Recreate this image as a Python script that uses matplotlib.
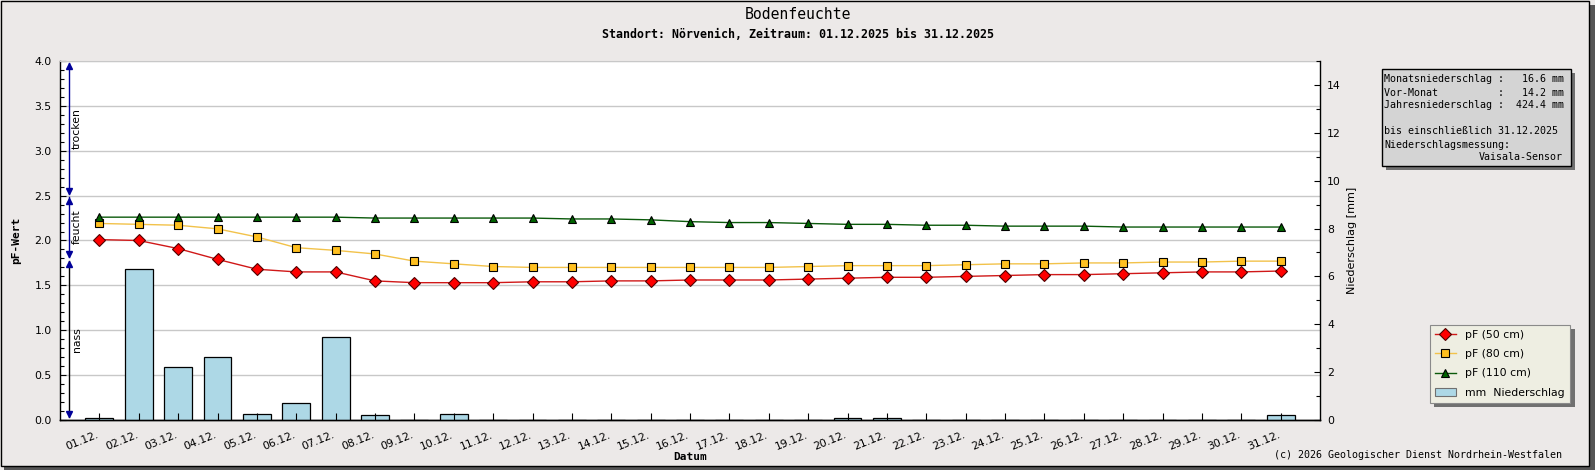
import matplotlib
matplotlib.use('Agg')
import matplotlib.pyplot as plt
import matplotlib.transforms as mtransforms
from matplotlib.patches import Rectangle, Patch
from matplotlib.lines import Line2D
from matplotlib.ticker import MultipleLocator, FormatStrFormatter
import numpy as np

# ---------------- data ----------------
days = list(range(1, 32))
date_labels = [f"{d:02d}.12." for d in days]

pf_50 = [2.01, 2.00, 1.91, 1.79, 1.68, 1.65, 1.65, 1.55, 1.53, 1.53, 1.53,
         1.54, 1.54, 1.55, 1.55, 1.56, 1.56, 1.56, 1.57, 1.58, 1.59, 1.59,
         1.60, 1.61, 1.62, 1.62, 1.63, 1.64, 1.65, 1.65, 1.66]
pf_80 = [2.19, 2.18, 2.17, 2.13, 2.04, 1.92, 1.89, 1.85, 1.77, 1.74, 1.71,
         1.70, 1.70, 1.70, 1.70, 1.70, 1.70, 1.70, 1.71, 1.72, 1.72, 1.72,
         1.73, 1.74, 1.74, 1.75, 1.75, 1.76, 1.76, 1.77, 1.77]
pf_110 = [2.26, 2.26, 2.26, 2.26, 2.26, 2.26, 2.26, 2.25, 2.25, 2.25, 2.25,
          2.25, 2.24, 2.24, 2.23, 2.21, 2.20, 2.20, 2.19, 2.18, 2.18, 2.17,
          2.17, 2.16, 2.16, 2.16, 2.15, 2.15, 2.15, 2.15, 2.15]
rain_mm = [0.1, 6.3, 2.2, 2.65, 0.25, 0.7, 3.45, 0.2, 0.0, 0.25, 0.0,
           0.0, 0.0, 0.0, 0.0, 0.0, 0.0, 0.0, 0.0, 0.1, 0.1, 0.0,
           0.0, 0.0, 0.0, 0.0, 0.0, 0.0, 0.0, 0.0, 0.2]

series_labels = ["pF (50 cm)", "pF (80 cm)", "pF (110 cm)", "mm  Niederschlag"]
info_lines = ["Monatsniederschlag :   16.6 mm",
              "Vor-Monat          :   14.2 mm",
              "Jahresniederschlag :  424.4 mm",
              "",
              "bis einschließlich 31.12.2025",
              "Niederschlagsmessung:"]
info_last = "Vaisala-Sensor"
zones = [("trocken", 2.52, 3.98, '#000099'),
         ("feucht", 1.82, 2.48, '#000099'),
         ("nass", 0.03, 1.77, 'black')]

title = "Bodenfeuchte"
subtitle = "Standort: Nörvenich, Zeitraum: 01.12.2025 bis 31.12.2025"
copyright_txt = "(c) 2026 Geologischer Dienst Nordrhein-Westfalen"

# ---------------- figure ----------------
W, H = 1595, 470
BG = '#ECE9E8'
fig = plt.figure(figsize=(W / 100, H / 100), dpi=100, facecolor=BG)


def fx(x):
    return x / W


def fy(y):
    return 1 - y / H


# frame + shadow
fig.patches.append(Rectangle((fx(1589), fy(470)), fx(6), 465 / H, transform=fig.transFigure,
                             facecolor='#555555', edgecolor='none', zorder=0))
fig.patches.append(Rectangle((fx(4), fy(470)), fx(1591), 4.5 / H, transform=fig.transFigure,
                             facecolor='#555555', edgecolor='none', zorder=0))
fig.patches.append(Rectangle((fx(0.5), fy(465.5)), fx(1588), 465 / H, transform=fig.transFigure,
                             facecolor='none', edgecolor='black', lw=1.0, zorder=0.5))

L, R, T, B = 60, 1320, 61, 420
ax = fig.add_axes([fx(L), fy(B), (R - L) / W, (B - T) / H])
ax2 = ax.twinx()
ax3 = ax.twinx()

ax.set_facecolor('white')
ax.set_xlim(0, 32)
ax.set_ylim(0, 4)
ax.set_yticks(np.arange(0, 4.01, 0.5))
ax.yaxis.set_minor_locator(MultipleLocator(0.1))
ax.yaxis.set_major_formatter(FormatStrFormatter('%.1f'))
ax.grid(axis='y', which='major', color='#C8C8C8', lw=1.0)
ax.set_axisbelow(True)
ax.tick_params(axis='y', which='major', direction='in', length=4.5, width=0.8,
               labelsize=7.8, pad=6)
ax.tick_params(axis='y', which='minor', direction='in', length=3, width=0.8)
ax.tick_params(axis='x', bottom=False, labelbottom=False)
ax.spines['top'].set_color('#C8C8C8')
ax.spines['right'].set_visible(False)
for s in ['left', 'bottom']:
    ax.spines[s].set_linewidth(1.0)

# bars (precipitation)
ax2.bar(days, rain_mm, width=0.71, color='#ADD8E6', edgecolor='black', linewidth=0.9)
ax2.set_ylim(0, 15)
ax2.set_yticks(np.arange(0, 14.1, 2))
ax2.yaxis.set_minor_locator(MultipleLocator(1))
ax2.tick_params(axis='y', which='major', direction='in', length=4.5, width=0.8,
                labelsize=7.8, pad=5)
ax2.tick_params(axis='y', which='minor', direction='in', length=3, width=0.8)
for s in ['left', 'top', 'bottom']:
    ax2.spines[s].set_visible(False)
ax2.spines['right'].set_linewidth(1.0)

# lines on top
ax3.set_ylim(0, 4)
ax3.yaxis.set_visible(False)
for s in ['left', 'right', 'top']:
    ax3.spines[s].set_visible(False)
ax3.spines['bottom'].set_linewidth(1.0)
ax3.xaxis.set_visible(True)
ax3.set_xticks(days)
ax3.set_xticklabels(date_labels, rotation=22, ha='right', va='top', rotation_mode='anchor')
ax3.tick_params(axis='x', direction='in', length=5, width=0.8, labelsize=7.8, pad=7,
                bottom=True, labelbottom=True)
off = mtransforms.ScaledTranslation(-3 / 100, 0, fig.dpi_scale_trans)
for lab in ax3.get_xticklabels():
    lab.set_transform(lab.get_transform() + off)
ax3.set_xlim(0, 32)

line_styles = [
    dict(color='#D01818', marker='D', ms=6.0, mfc='#FF0000', mec='#500000'),
    dict(color='#F2C24A', marker='s', ms=5.2, mfc='#FFC020', mec='black'),
    dict(color='#0B5A0B', marker='^', ms=6.2, mfc='#006400', mec='black'),
]
for vals, st in zip([pf_50, pf_80, pf_110], line_styles):
    ax3.plot(days, vals, lw=1.0, mew=0.8, **st)

# zone arrows
trans = mtransforms.blended_transform_factory(ax.transAxes, ax.transData)
xa = 8.7 / (R - L)
xt = 16.7 / (R - L)
hoff = 0.035
for name, lo, hi, col in zones:
    ax.plot([xa, xa], [lo, hi], color=col, lw=1.0, transform=trans, clip_on=False, zorder=3)
    ax.plot([xa], [hi - hoff], marker='^', ms=4.5, color='#000099', transform=trans,
            clip_on=False, zorder=3)
    ax.plot([xa], [lo + hoff], marker='v', ms=4.5, color='#000099', transform=trans,
            clip_on=False, zorder=3)
    ax.text(xt, (lo + hi) / 2, name, rotation=90, ha='center', va='center',
            fontsize=7.8, transform=trans, zorder=3)

# texts
fig.text(0.5, fy(14.5), title, ha='center', va='center', fontsize=10.6,
         family='DejaVu Sans Mono')
fig.text(0.5, fy(34), subtitle, ha='center', va='center', fontsize=8.4,
         family='DejaVu Sans Mono', fontweight='bold')
fig.text(fx(16.5), fy(240), "pF-Wert", rotation=90, ha='center', va='center',
         fontsize=8, family='DejaVu Sans Mono', fontweight='bold')
fig.text(fx(1352), fy(240), "Niederschlag [mm]", rotation=90, ha='center', va='center',
         fontsize=8)
fig.text(fx(690), fy(456.5), "Datum", ha='center', va='center', fontsize=8,
         family='DejaVu Sans Mono', fontweight='bold')
fig.text(fx(1562), fy(455), copyright_txt, ha='right', va='center', fontsize=7.2,
         family='DejaVu Sans Mono')

# info box
bx0, by0, bx1, by1 = 1382, 68.5, 1571, 166
fig.patches.append(Rectangle((fx(bx0 + 4), fy(by1 + 4)), (bx1 - bx0) / W, (by1 - by0) / H,
                             transform=fig.transFigure, facecolor='#707070',
                             edgecolor='none', zorder=1))
fig.patches.append(Rectangle((fx(bx0), fy(by1)), (bx1 - bx0) / W, (by1 - by0) / H,
                             transform=fig.transFigure, facecolor='#D4D4D4',
                             edgecolor='black', lw=1.0, zorder=2))
y0 = 79.5
for i, line in enumerate(info_lines):
    if line:
        fig.text(fx(1384.5), fy(y0 + i * 13.0), line, ha='left', va='center',
                 fontsize=7.2, family='DejaVu Sans Mono', zorder=3)
fig.text(fx(1563), fy(y0 + 6 * 13.0), info_last, ha='right', va='center',
         fontsize=7.2, family='DejaVu Sans Mono', zorder=3)

# legend
handles = [Line2D([], [], lw=1.0, mew=0.8, **st) for st in line_styles]
handles.append(Patch(facecolor='#ADD8E6', edgecolor='#707070', lw=0.8))
leg = fig.legend(handles, series_labels, loc='upper left',
                 bbox_to_anchor=(fx(1429.5), fy(324.5)), bbox_transform=fig.transFigure,
                 frameon=True, fancybox=False, edgecolor='#8A8A8A', facecolor='#EEEEE2',
                 framealpha=1, fontsize=7.8, borderpad=0.5, labelspacing=0.85,
                 handlelength=1.9, handletextpad=0.9, borderaxespad=0)
leg.get_frame().set_linewidth(0.8)
leg.set_zorder(5)

fig.canvas.draw()
bb = leg.get_window_extent()
inv = fig.transFigure.inverted()
(x0f, y0f), (x1f, y1f) = inv.transform([(bb.x0 + 4.5, bb.y0 - 4), (bb.x1 + 4.5, bb.y1 - 4)])
fig.patches.append(Rectangle((x0f, y0f), x1f - x0f, y1f - y0f, transform=fig.transFigure,
                             facecolor='#707070', edgecolor='none', zorder=4))

fig.savefig('out.png', dpi=100, facecolor=BG)
